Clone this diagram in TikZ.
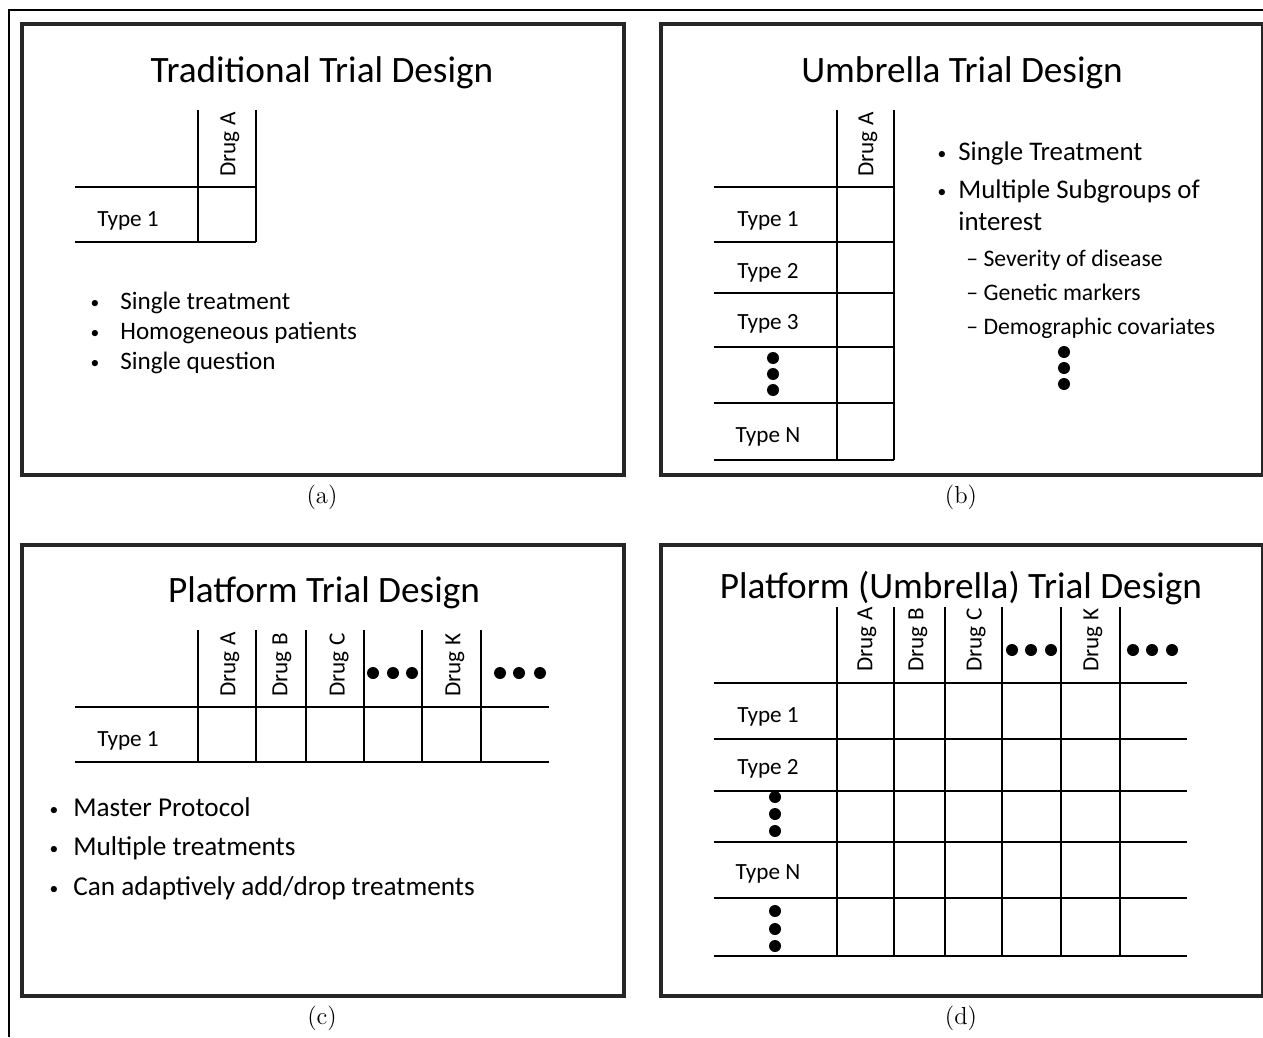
\documentclass[tikz,border=0pt]{standalone}
\usepackage{fontspec}
\newfontfamily\calfont{Carlito}

\begin{document}
\begin{tikzpicture}[x=0.02cm, y=-0.02cm,
  panel/.style={line width=2pt, draw=black!85},
  grid/.style={line width=1.4pt},
  ttl/.style={font=\calfont\fontsize{21.2}{25}\selectfont, anchor=mid},
  lbl/.style={font=\calfont\fontsize{13.2}{15}\selectfont, anchor=mid},
  drug/.style={font=\calfont\fontsize{13.2}{15}\selectfont, rotate=90, anchor=west, inner sep=0pt},
  bul/.style={font=\calfont\fontsize{#1}{#1}\selectfont, anchor=mid west, inner sep=0pt},
  bul/.default=15.3,
  bulmark/.style={font=\calfont\fontsize{10}{10}\selectfont, anchor=mid, inner sep=0pt},
  dotmark/.style={circle, fill, inner sep=0pt, minimum size=0.24cm},
  captxt/.style={font=\fontsize{14}{16}\selectfont, anchor=mid}]
\useasboundingbox (0,0) rectangle (1263,1037);

% Outer frame (cut off right and below)
\draw [line width=1.4pt] (9,1037) -- (9,10) -- (1263,10);

% The four slides and their captions
\foreach \x/\y/\c in {22/24/a, 661/24/b, 22/545/c, 661/545/d} {
  \draw [panel] (\x,\y) rectangle ++(602,451);
  \node [captxt] (cap\c) at (\x+300,\y+476) {(\c)};
}

% (a) Traditional
\node [ttl] (ttla) at (322,79) {Traditional Trial Design};
\foreach \x in {198,256} \draw [grid] (\x,110) -- (\x,242);
\foreach \y in {187,242} \draw [grid] (75,\y) -- (256,\y);
\node [drug] (druga-a) at (230,177) {Drug A};
\node [lbl] (typea-1) at (128,223) {Type 1};
\foreach \t [count=\i] in {Single treatment, Homogeneous patients, Single question} {
  \node [bulmark] (marka-\i) at (95,275+30*\i) {\textbullet};
  \node [bul=14.3] (bula-\i) at (120,276+30*\i) {\t};
}

% (b) Umbrella
\node [ttl] (ttlb) at (962,79) {Umbrella Trial Design};
\foreach \x in {837,894} \draw [grid] (\x,110) -- (\x,460);
\foreach \y in {187,242,293,347,403,460} \draw [grid] (714,\y) -- (894,\y);
\node [drug] (drugb-a) at (868,177) {Drug A};
\foreach \lab/\y [count=\i] in {Type 1/223, Type 2/275, Type 3/326, Type N/439}
  \node [lbl] (typeb-\i) at (768,\y) {\lab};
\foreach \y [count=\i] in {358,374,390} {
  \node [dotmark] (dotb-\i) at (773,\y) {};
  \node [dotmark] (dotr-\i) at (1064,\y-6) {};
}
\node [bulmark] (markb-1) at (942,156) {\textbullet};
\node [bulmark] (markb-2) at (942,194) {\textbullet};
\node [bul] (bulb-1) at (958,157) {Single Treatment};
\node [bul] (bulb-2) at (958,195) {Multiple Subgroups of};
\node [bul] (bulb-3) at (958,227) {interest};
\foreach \t/\y [count=\i] in {Severity of disease/263, Genetic markers/297, Demographic covariates/331}
  \node [bul=13.5] (subb-\i) at (966,\y) {– \t};

% (c) Platform
\node [ttl] (ttlc) at (324,599) {Platform Trial Design};
\foreach \x in {198,256,306,364,422,481} \draw [grid] (\x,630) -- (\x,762);
\foreach \y in {707,762} \draw [grid] (75,\y) -- (549,\y);
\foreach \lab/\x in {A/230, B/282, C/339, K/455}
  \node [drug] (drugc-\lab) at (\x,697) {Drug \lab};
\foreach \x [count=\i] in {373,393,412,500,519,540}
  \node [dotmark] (dotc-\i) at (\x,673) {};
\node [lbl] (typec-1) at (128,743) {Type 1};
\foreach \t/\y [count=\i] in {Master Protocol/813, Multiple treatments/852, {Can adaptively add/drop treatments}/892} {
  \node [bulmark] (markc-\i) at (54,\y-1) {\textbullet};
  \node [bul=15.5] (bulc-\i) at (73,\y) {\t};
}

% (d) Platform (Umbrella)
\node [ttl] (ttld) at (961,595) {Platform (Umbrella) Trial Design};
\foreach \x in {837,894,945,1002,1061,1120} \draw [grid] (\x,607) -- (\x,956);
\foreach \y in {683,739,791,842,898,956} \draw [grid] (714,\y) -- (1187,\y);
\foreach \lab/\x in {A/867, B/918, C/976, K/1093}
  \node [drug] (drugd-\lab) at (\x,672) {Drug \lab};
\foreach \x [count=\i] in {1012,1031,1051,1133,1152,1172}
  \node [dotmark] (dotd-\i) at (\x,650) {};
\foreach \lab/\y [count=\i] in {Type 1/719, Type 2/771, Type N/876}
  \node [lbl] (typed-\i) at (768,\y) {\lab};
\foreach \y [count=\i] in {797,814,831,911,929,946}
  \node [dotmark] (dotv-\i) at (775,\y) {};

\end{tikzpicture}
\end{document}
